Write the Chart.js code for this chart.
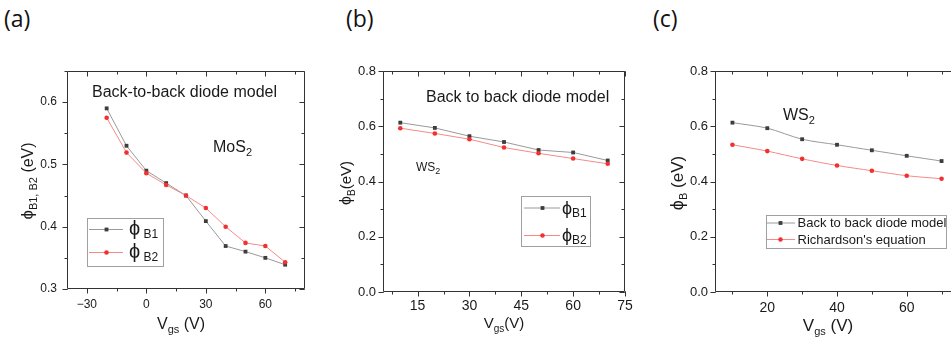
<!DOCTYPE html>
<html>
<head>
<meta charset="utf-8">
<title>Barrier height vs gate voltage</title>
<script src="https://cdn.jsdelivr.net/npm/chart.js@4.4.1/dist/chart.umd.min.js"></script>
<style>
  html, body { margin: 0; padding: 0; background: #fff; overflow: hidden; }
  body { width: 951px; height: 339px; position: relative; }
  .tag { position: absolute; top: 3px; font: 23px "Open Sans", "Liberation Sans", sans-serif; color: #111; line-height: 30px; }
  canvas { position: absolute; top: 0; }
</style>
</head>
<body>
<div class="tag" style="left:4px">(a)</div>
<div class="tag" style="left:346px">(b)</div>
<div class="tag" style="left:653px">(c)</div>
<canvas id="chartA" width="320" height="339" style="left:0"></canvas>
<canvas id="chartB" width="320" height="339" style="left:320px"></canvas>
<canvas id="chartC" width="330" height="339" style="left:640px"></canvas>
<script>
// MoS2, back-to-back diode model
const mosVgs = [-20, -10, 0, 10, 20, 30, 40, 50, 60, 70];
const mosPhiB1 = [0.59, 0.53, 0.49, 0.47, 0.45, 0.409, 0.369, 0.36, 0.35, 0.339];
const mosPhiB2 = [0.575, 0.519, 0.486, 0.467, 0.45, 0.43, 0.40, 0.374, 0.369, 0.343];
const mosXTicks = [-30, 0, 30, 60];
const mosYTicks = [0.3, 0.4, 0.5, 0.6];

// WS2, back-to-back diode model
const wsVgs = [10, 20, 30, 40, 50, 60, 70];
const wsPhiB1 = [0.613, 0.594, 0.564, 0.543, 0.514, 0.505, 0.476];
const wsPhiB2 = [0.593, 0.574, 0.553, 0.523, 0.502, 0.483, 0.464];

// WS2, diode model vs Richardson's equation
const wsBackToBack = [0.613, 0.593, 0.553, 0.533, 0.513, 0.493, 0.474];
const wsRichardson = [0.533, 0.51, 0.482, 0.458, 0.439, 0.421, 0.41];

const wsXTicksB = [15, 30, 45, 60, 75];
const wsXTicksC = [20, 40, 60];
const wsYTicks = [0, 0.2, 0.4, 0.6, 0.8];

const FONT = '"Liberation Sans", Arial, "DejaVu Sans", sans-serif';
const DARK = '#3d3d3d';
const RED = '#f23030';
const GRAY_LINE = '#9a9a9a';
const RED_LINE = '#f58a8a';
const AXIS = '#333';

// text with subscripts: parts are [text, size, dy]
function drawRich(ctx, parts, x, y, align, rotate) {
  ctx.save();
  ctx.translate(x, y);
  if (rotate) ctx.rotate(-Math.PI / 2);
  ctx.textAlign = 'left';
  ctx.textBaseline = 'alphabetic';
  ctx.fillStyle = '#1a1a1a';
  let w = 0;
  parts.forEach(p => { ctx.font = p[1] + 'px ' + FONT; w += ctx.measureText(p[0]).width; });
  let cx = align === 'center' ? -w / 2 : 0;
  parts.forEach(p => {
    ctx.font = p[1] + 'px ' + FONT;
    ctx.fillText(p[0], cx, p[2] || 0);
    cx += ctx.measureText(p[0]).width;
  });
  ctx.restore();
}

function stepValues(min, max, step) {
  const out = [];
  for (let k = Math.ceil(min / step - 1e-9); k * step <= max + 1e-9; k++) out.push(k * step);
  return out;
}

// box, tick marks, axis titles, notes and legend
const framePlugin = {
  id: 'frame',
  afterDraw(chart, args, opts) {
    const ctx = chart.ctx;
    const { left, right, top, bottom } = chart.chartArea;
    const xs = chart.scales.x, ys = chart.scales.y;
    const L = Math.round(left) + 0.5, R = Math.round(right) - 0.5;
    const T = Math.round(top) + 0.5, B = Math.round(bottom) - 0.5;
    ctx.save();
    ctx.strokeStyle = AXIS;
    ctx.lineWidth = 1;
    ctx.beginPath();
    ctx.rect(L, T, R - L, B - T);

    const xMarks = (vals, len) => vals.forEach(v => {
      const px = Math.round(xs.getPixelForValue(v)) + 0.5;
      if (px < L - 1 || px > R + 1) return;
      ctx.moveTo(px, B); ctx.lineTo(px, B + len);
      ctx.moveTo(px, T); ctx.lineTo(px, T + len);
    });
    const yMarks = (vals, len) => vals.forEach(v => {
      const py = Math.round(ys.getPixelForValue(v)) + 0.5;
      if (py < T - 1 || py > B + 1) return;
      ctx.moveTo(L, py); ctx.lineTo(L - len, py);
      ctx.moveTo(R, py); ctx.lineTo(R - len, py);
    });
    xMarks(stepValues(xs.min, xs.max, opts.xMinor), 3);
    yMarks(stepValues(ys.min, ys.max, opts.yMinor), 3);
    xMarks(xs.ticks.map(t => t.value), 5);
    yMarks(ys.ticks.map(t => t.value), 5);
    ctx.stroke();

    drawRich(ctx, opts.xTitle.parts, opts.xTitle.x, opts.xTitle.y, 'center', false);
    drawRich(ctx, opts.yTitle.parts, opts.yTitle.x, opts.yTitle.y, 'center', true);
    (opts.notes || []).forEach(n => drawRich(ctx, n.parts, n.x, n.y, 'left', false));

    const lg = opts.legend;
    ctx.strokeStyle = '#a0a0a0';
    ctx.strokeRect(Math.round(lg.box[0]) + 0.5, Math.round(lg.box[1]) + 0.5,
      Math.round(lg.box[2] - lg.box[0]), Math.round(lg.box[3] - lg.box[1]));
    lg.rows.forEach(row => {
      const ds = chart.data.datasets[row.dataset];
      ctx.strokeStyle = ds.borderColor;
      ctx.beginPath();
      ctx.moveTo(lg.line[0], row.y + 0.5);
      ctx.lineTo(lg.line[1], row.y + 0.5);
      ctx.stroke();
      ctx.fillStyle = ds.pointBackgroundColor;
      Chart.helpers.drawPoint(ctx, {
        pointStyle: ds.pointStyle, radius: ds.pointRadius, borderWidth: 0, rotation: 0
      }, lg.marker, row.y + 0.5);
      drawRich(ctx, row.parts, lg.textX, row.y + (row.dy || 0), 'left', false);
    });
    ctx.restore();
  }
};

function series(xs, ys, color, lineColor, shape, radius, tension, order) {
  return {
    data: xs.map((x, i) => ({ x, y: ys[i] })),
    showLine: true,
    borderColor: lineColor,
    borderWidth: 1,
    backgroundColor: color,
    pointBackgroundColor: color,
    pointBorderWidth: 0,
    pointStyle: shape,
    pointRadius: radius,
    tension,
    order
  };
}

function makePanel(id, cfg) {
  return new Chart(document.getElementById(id), {
    type: 'scatter',
    data: { datasets: cfg.datasets },
    options: {
      responsive: false,
      animation: false,
      events: [],
      layout: { padding: { left: 0, top: cfg.top, right: cfg.right, bottom: 0 } },
      plugins: { legend: { display: false }, tooltip: { enabled: false }, frame: cfg.frame },
      scales: {
        x: {
          type: 'linear', min: cfg.xMin, max: cfg.xMax,
          grid: { display: false, drawTicks: false }, border: { display: false },
          afterBuildTicks: s => { s.ticks = cfg.xTicks.map(value => ({ value })); },
          afterFit: s => { s.height = cfg.xHeight; },
          ticks: {
            padding: cfg.xPad, color: '#1a1a1a', maxRotation: 0, autoSkip: false,
            font: { family: FONT, size: cfg.xFont },
            callback: v => (v < 0 ? '\u2212' + (-v) : String(v))
          }
        },
        y: {
          type: 'linear', min: cfg.yMin, max: cfg.yMax,
          grid: { display: false, drawTicks: false }, border: { display: false },
          afterBuildTicks: s => { s.ticks = cfg.yTicks.map(value => ({ value })); },
          afterFit: s => { s.width = cfg.yWidth; },
          ticks: {
            padding: cfg.yPad, color: '#1a1a1a', autoSkip: false,
            font: { family: FONT, size: cfg.yFont },
            callback: v => v.toFixed(1)
          }
        }
      }
    },
    plugins: [framePlugin]
  });
}

// (a) MoS2
makePanel('chartA', {
  datasets: [
    series(mosVgs, mosPhiB1, DARK, GRAY_LINE, 'rect', 2.7, 0, 2),
    series(mosVgs, mosPhiB2, RED, RED_LINE, 'circle', 2.3, 0, 1)
  ],
  xMin: -40, xMax: 80, xTicks: mosXTicks,
  yMin: 0.3, yMax: 0.65, yTicks: mosYTicks,
  top: 71, right: 15, yWidth: 67, xHeight: 50,
  xPad: 8, yPad: 10, xFont: 12, yFont: 12,
  frame: {
    xMinor: 15, yMinor: 0.05,
    xTitle: { x: 181, y: 329, parts: [['V', 16], ['gs', 11, 4], [' (V)', 16]] },
    yTitle: { x: 33, y: 181, parts: [['\u03D5', 17], ['B1, B2', 11, 4], [' (eV)', 16]] },
    notes: [
      { x: 92, y: 97, parts: [['Back-to-back diode model', 16]] },
      { x: 213, y: 152, parts: [['MoS', 16], ['2', 11, 4]] }
    ],
    legend: {
      box: [86.5, 218, 162.5, 265.5], line: [89, 123], marker: 106.5, textX: 129,
      rows: [
        { dataset: 0, y: 229, dy: 6, parts: [['\u03D5', 20], [' B1', 12, 3]] },
        { dataset: 1, y: 252, dy: 6, parts: [['\u03D5', 20], [' B2', 12, 3]] }
      ]
    }
  }
});

// (b) WS2, barrier heights at both contacts
makePanel('chartB', {
  datasets: [
    series(wsVgs, wsPhiB1, DARK, GRAY_LINE, 'rect', 2.7, 0, 2),
    series(wsVgs, wsPhiB2, RED, RED_LINE, 'circle', 2.3, 0, 1)
  ],
  xMin: 5, xMax: 75, xTicks: wsXTicksB,
  yMin: 0, yMax: 0.8, yTicks: wsYTicks,
  top: 71, right: 15, yWidth: 63, xHeight: 47,
  xPad: 6, yPad: 7, xFont: 14, yFont: 13,
  frame: {
    xMinor: 7.5, yMinor: 0.1,
    xTitle: { x: 184, y: 328, parts: [['V', 15], ['gs', 10, 4], ['(V)', 15]] },
    yTitle: { x: 31, y: 183, parts: [['\u03D5', 16], ['B', 10, 4], ['(eV)', 15]] },
    notes: [
      { x: 106, y: 102, parts: [['Back to back diode model', 16]] },
      { x: 96, y: 171, parts: [['WS', 12], ['2', 9, 3]] }
    ],
    legend: {
      box: [201, 196, 270, 246], line: [204, 240], marker: 222.5, textX: 242,
      rows: [
        { dataset: 0, y: 207.5, dy: 6, parts: [['\u03D5', 18], ['B1', 12, 3]] },
        { dataset: 1, y: 235, dy: 6, parts: [['\u03D5', 18], ['B2', 12, 3]] }
      ]
    }
  }
});

// (c) WS2, diode model against Richardson's equation
makePanel('chartC', {
  datasets: [
    series(wsVgs, wsBackToBack, DARK, GRAY_LINE, 'rect', 2.7, 0.3, 2),
    series(wsVgs, wsRichardson, RED, RED_LINE, 'circle', 2.3, 0.3, 1)
  ],
  xMin: 5, xMax: 75, xTicks: wsXTicksC,
  yMin: 0, yMax: 0.8, yTicks: wsYTicks,
  top: 71, right: 11, yWidth: 75, xHeight: 47,
  xPad: 8, yPad: 7, xFont: 14, yFont: 13,
  frame: {
    xMinor: 10, yMinor: 0.1,
    xTitle: { x: 188, y: 331, parts: [['V', 17], ['gs', 11, 4], [' (V)', 17]] },
    yTitle: { x: 43, y: 183, parts: [['\u03D5', 18], ['B', 11, 4], [' (eV)', 17]] },
    notes: [
      { x: 143, y: 120, parts: [['WS', 16], ['2', 11, 4]] }
    ],
    legend: {
      box: [125.5, 215, 305, 247.5], line: [127, 155], marker: 140.5, textX: 157.5,
      rows: [
        { dataset: 0, y: 222.5, dy: 4.5, parts: [['Back to back diode model', 13]] },
        { dataset: 1, y: 239, dy: 4.5, parts: [["Richardson's equation", 13]] }
      ]
    }
  }
});
</script>
</body>
</html>
